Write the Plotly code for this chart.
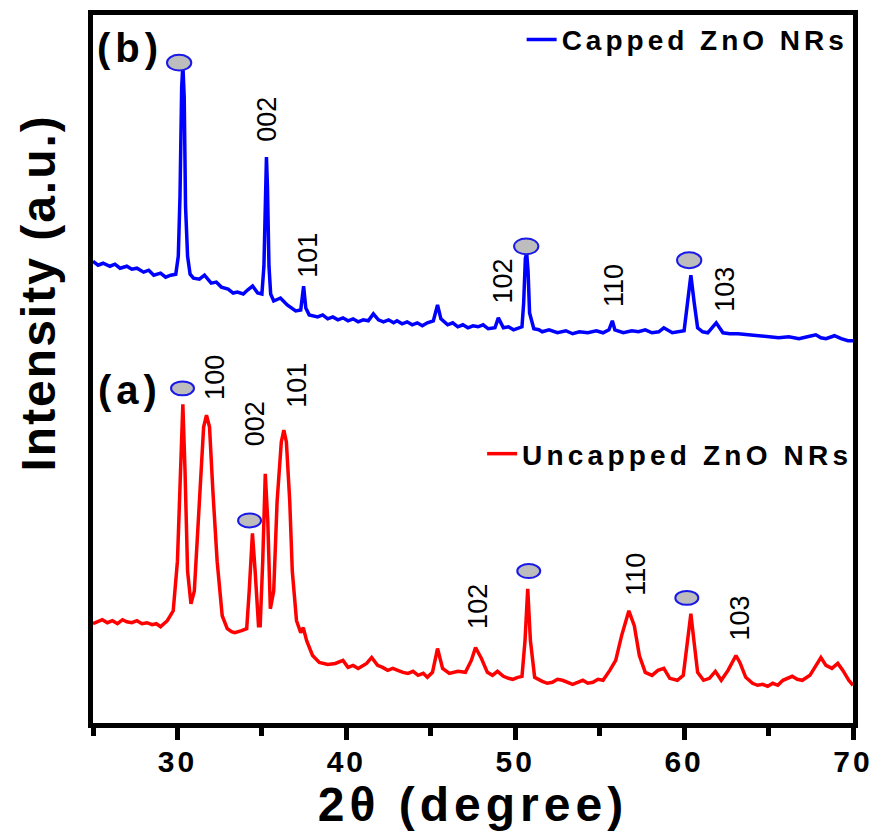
import plotly.graph_objects as go

# ---------------- data ----------------
two_theta_capped = [25.0, 25.3, 25.6, 26.0, 26.3, 26.6, 27.0, 27.3, 27.6, 28.0, 28.3, 28.6,
                    29.0, 29.3, 29.6, 29.9,
                    30.05, 30.15, 30.25, 30.32, 30.4, 30.48, 30.6, 30.75, 30.95, 31.3,
                    31.6, 32.0, 32.3, 32.6, 33.0, 33.3, 33.55, 33.9, 34.15, 34.45, 34.75, 35.0, 35.12,
                    35.2, 35.27, 35.33, 35.42, 35.52, 35.7, 36.1, 36.5, 37.0, 37.3,
                    37.47, 37.6, 37.8, 38.3, 38.6, 38.9, 39.2, 39.5, 39.8, 40.1, 40.4, 40.7, 41.0,
                    41.3, 41.6, 41.9, 42.2, 42.5, 42.8, 43.0, 43.3, 43.6, 43.9, 44.2, 44.5, 44.8,
                    45.15, 45.4, 45.6, 46.0, 46.3, 46.6, 46.9, 47.2, 47.5,
                    47.8, 48.1, 48.4, 48.8, 49.0, 49.3, 49.6, 49.9, 50.2, 50.4, 50.5, 50.6, 50.68,
                    50.76, 50.85, 51.1, 51.4, 51.6, 52.0, 52.5, 53.0, 53.4, 53.8, 54.3, 54.8, 55.2,
                    55.55, 55.75, 55.9, 56.4, 56.9, 57.3, 57.7, 58.1, 58.5, 58.8, 59.3, 59.7, 60.0,
                    60.2, 60.4, 60.6, 60.8, 61.1, 61.4, 61.9, 62.3, 62.7, 63.2, 63.8, 64.4, 65.0,
                    65.6, 66.2, 66.8, 67.3, 67.8, 68.1, 68.4, 68.9, 69.3, 69.7, 70.0]
intensity_capped = [465, 461, 463, 460, 462, 458, 460, 457, 458, 454, 456, 451,
                    453, 449, 451, 452,
                    470, 530, 640, 663, 630, 520, 470, 452, 448, 447,
                    451, 443, 444, 439, 437, 433, 434, 432, 436, 440, 433, 432, 460,
                    540, 570, 540, 460, 432, 425, 428, 421, 415, 416,
                    440, 418, 411, 409, 411, 407, 409, 406, 408, 405, 407, 404, 406,
                    405, 412, 406, 404, 406, 403, 405, 402, 404, 401, 403, 400, 403,
                    405, 421, 407, 401, 403, 399, 401, 398, 400,
                    399, 401, 397, 398, 408, 398, 399, 396, 398, 399, 423, 468, 473,
                    455, 413, 397, 396, 394, 396, 393, 395, 392, 394, 393, 395, 393,
                    396, 405, 396, 393, 395, 394, 396, 393, 394, 398, 393, 394, 395,
                    423, 451, 423, 398, 394, 393, 403, 393, 392, 392, 391, 390, 389,
                    388, 389, 387, 389, 391, 388, 387, 390, 387, 385, 385]

two_theta_uncapped = [25.0, 25.3, 25.55, 25.85, 26.15, 26.45, 26.75, 27.0, 27.3, 27.6, 27.9,
                      28.2, 28.5, 28.75, 29.0, 29.4, 29.75,
                      30.0, 30.2, 30.32, 30.45, 30.6, 30.8, 31.0, 31.3, 31.55, 31.72,
                      31.9, 32.1, 32.35, 32.65, 32.95, 33.2, 33.4, 33.8, 34.1, 34.25, 34.44,
                      34.6, 34.8, 34.9, 35.05, 35.2, 35.35, 35.5, 35.7, 35.9, 36.15,
                      36.3, 36.45, 36.65, 36.8, 37.05, 37.3, 37.45, 37.65, 38.0, 38.4,
                      38.9, 39.35, 39.8, 40.1, 40.4, 40.7, 41.2, 41.5, 41.85, 42.15, 42.45, 42.75, 43.05,
                      43.35, 43.65, 43.95, 44.25, 44.55, 44.8, 45.1, 45.4, 45.7, 46.1, 46.6, 47.05, 47.4,
                      47.65, 48.0, 48.35, 48.65, 48.95, 49.3, 49.6, 49.85, 50.15, 50.4, 50.58, 50.74,
                      50.9, 51.15, 51.6, 51.9, 52.2, 52.5, 52.8, 53.1, 53.4, 53.7, 54.0, 54.3, 54.6,
                      54.9, 55.2, 55.6,
                      55.95, 56.3, 56.73, 57.05, 57.35, 57.7, 58.1, 58.45, 58.8, 59.15,
                      59.6, 59.95, 60.2, 60.4, 60.58, 60.8, 61.15, 61.5, 61.85, 62.2,
                      62.6, 63.07, 63.3, 63.65, 64.05, 64.35, 64.65, 64.95, 65.25, 65.55, 65.85,
                      66.1, 66.4, 66.7, 67.0,
                      67.45, 67.8, 68.1, 68.4, 68.75, 69.1, 69.4, 69.75, 70.0]
intensity_uncapped = [100, 102, 104, 101, 103, 100, 104, 102, 101, 103, 100,
                      101, 99, 100, 97, 103, 113,
                      163, 273, 321, 253, 153, 120, 133, 223, 298, 310,
                      298, 233, 163, 108, 95, 92, 91, 93, 95, 133, 191,
                      153, 98, 98, 163, 251, 203, 115, 133, 223, 283,
                      295, 283, 223, 153, 103, 91, 96, 83, 68, 61,
                      59, 60, 63, 56, 58, 55, 60, 66, 58, 56, 53, 55, 53,
                      51, 50, 52, 48, 50, 46, 51, 75, 55, 50, 52, 51, 63,
                      76, 65, 51, 48, 52, 47, 45, 44, 46, 47, 83, 135,
                      83, 46, 42, 40, 41, 44, 43, 41, 39, 41, 43, 40, 41,
                      44, 43, 53,
                      63, 88, 113, 98, 68, 51, 48, 53, 55, 45,
                      43, 48, 83, 110, 83, 51, 43, 45, 52, 43,
                      53, 68, 61, 46, 40, 38, 39, 37, 40, 38, 43,
                      45, 47, 44, 43,
                      48, 58, 66, 58, 55, 60, 53, 43, 38]

# hkl labels (peak positions) and impurity-marker peaks
capped_hkl = ["002", "101", "102", "110", "103"]
capped_hkl_x = [35.33, 37.76, 49.3, 55.84, 62.4]
capped_hkl_y = [608, 471, 445, 441, 437]
uncapped_hkl = ["100", "002", "101", "102", "110", "103"]
uncapped_hkl_x = [32.25, 34.6, 37.1, 47.8, 57.14, 63.3]
uncapped_hkl_y = [348, 301, 340, 117, 150, 106]

capped_marker_x = [30.1, 50.65, 60.3]
capped_marker_y = [665, 480, 466]
uncapped_marker_x = [30.3, 34.27, 50.8, 60.16]
uncapped_marker_y = [337, 204, 153, 126]

tick_values = [30, 40, 50, 60, 70]
tick_labels = ["30", "40", "50", "60", "70"]

# ---------------- styling ----------------
FONT = "Liberation Sans, Arial, sans-serif"


def spaced(txt, px):
    return f'<span style="letter-spacing:{px}px">{txt}</span>'


fig = go.Figure()
fig.add_trace(go.Scatter(x=two_theta_capped, y=intensity_capped, mode="lines",
                         name=spaced("<b>Capped ZnO NRs</b>", 4),
                         line=dict(color="#0000ff", width=3.5), legend="legend",
                         showlegend=True))
fig.add_trace(go.Scatter(x=two_theta_uncapped, y=intensity_uncapped, mode="lines",
                         name=spaced("<b>Uncapped ZnO NRs</b>", 4.2),
                         line=dict(color="#ff0000", width=3.5), legend="legend2",
                         showlegend=True))

annotations = []
for t, x, y in zip(capped_hkl, capped_hkl_x, capped_hkl_y):
    annotations.append(dict(x=x, y=y, text=t, textangle=-90, showarrow=False,
                            font=dict(family=FONT, size=27, color="black"),
                            xanchor="center", yanchor="middle"))
for t, x, y in zip(uncapped_hkl, uncapped_hkl_x, uncapped_hkl_y):
    annotations.append(dict(x=x, y=y, text=t, textangle=-90, showarrow=False,
                            font=dict(family=FONT, size=27, color="black"),
                            xanchor="center", yanchor="middle"))
annotations.append(dict(x=27.21, y=680, text=spaced("<b>(b)</b>", 5), showarrow=False,
                        font=dict(family=FONT, size=40, color="black"),
                        xanchor="center", yanchor="middle"))
annotations.append(dict(x=27.21, y=335, text=spaced("<b>(a)</b>", 5), showarrow=False,
                        font=dict(family=FONT, size=40, color="black"),
                        xanchor="center", yanchor="middle"))
# y-axis title (placed above centre, as in the original)
annotations.append(dict(x=-0.072, y=0.607, xref="paper", yref="paper",
                        text=spaced("<b>Intensity (a.u.)</b>", 2), textangle=-90,
                        showarrow=False, xanchor="center", yanchor="middle",
                        font=dict(family=FONT, size=48, color="black")))

shapes = []
for x, y in zip(capped_marker_x, capped_marker_y):
    shapes.append(dict(type="circle", xref="x", yref="y",
                       x0=x - 0.72, x1=x + 0.72, y0=y - 8, y1=y + 8,
                       fillcolor="#bdbdbd", line=dict(color="#1a1ae6", width=2)))
for x, y in zip(uncapped_marker_x, uncapped_marker_y):
    shapes.append(dict(type="circle", xref="x", yref="y",
                       x0=x - 0.68, x1=x + 0.68, y0=y - 7, y1=y + 7,
                       fillcolor="#bdbdbd", line=dict(color="#1a1ae6", width=2)))

fig.update_layout(
    width=883, height=840,
    margin=dict(l=93, r=26, t=10, b=117),
    paper_bgcolor="white", plot_bgcolor="white",
    font=dict(family=FONT, color="black"),
    showlegend=True,
    annotations=annotations, shapes=shapes,
    legend=dict(x=0.564, y=0.965, xanchor="left", yanchor="middle", visible=True,
                bgcolor="rgba(0,0,0,0)", font=dict(family=FONT, size=28, color="black")),
    legend2=dict(x=0.512, y=0.38, xanchor="left", yanchor="middle", visible=True,
                 bgcolor="rgba(0,0,0,0)", font=dict(family=FONT, size=28, color="black")),
    xaxis=dict(range=[25, 70], showgrid=False, zeroline=False,
               showline=True, linewidth=5, linecolor="black", mirror=True,
               ticks="outside", ticklen=12, tickwidth=5, tickcolor="black",
               tickmode="array", tickvals=tick_values,
               ticktext=[spaced("<b>" + t + "</b>", 3) for t in tick_labels],
               tickfont=dict(family=FONT, size=30, color="black"),
               ticklabelstandoff=-4,
               minor=dict(tickmode="linear", tick0=25, dtick=5, ticks="outside",
                          ticklen=8, tickwidth=5, tickcolor="black", showgrid=False),
               title=dict(text=spaced("<b>2θ (degree)</b>", 5),
                          font=dict(family=FONT, size=48, color="black"), standoff=8)),
    yaxis=dict(range=[0, 713], showgrid=False, zeroline=False,
               showline=True, linewidth=5, linecolor="black", mirror=True,
               ticks="", showticklabels=False),
)

fig.write_html("out.html")
